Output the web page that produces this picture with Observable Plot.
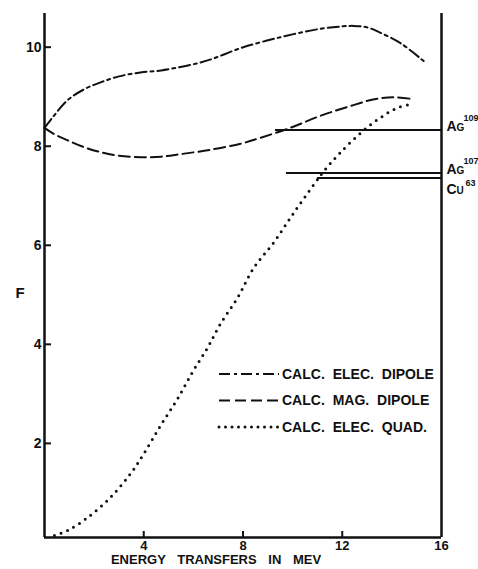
<!DOCTYPE html>
<html><head><meta charset="utf-8">
<script src="https://cdn.jsdelivr.net/npm/d3@7"></script>
<script src="https://cdn.jsdelivr.net/npm/@observablehq/plot@0.6"></script>
<style>
body{margin:0;background:#fff;}
#wrap{position:relative;width:478px;height:569px;overflow:hidden;}
#wrap svg text{font-family:"Liberation Sans",Arial,sans-serif;font-weight:bold;}
#legend{position:absolute;left:0;top:0;pointer-events:none;}
</style></head><body><div id="wrap"></div>
<script>
// ---- data ----
const elecDipoleX = [0, 0.37, 0.93, 1.6, 2.26, 3.0, 3.87, 4.7, 5.48, 6.2, 6.8, 7.9, 9.5, 11.1, 12.0, 12.46, 13.0, 13.5, 14.35, 15.28];
const elecDipoleF = [8.37, 8.61, 8.93, 9.15, 9.29, 9.41, 9.49, 9.53, 9.6, 9.68, 9.77, 9.98, 10.2, 10.37, 10.42, 10.43, 10.4, 10.3, 10.08, 9.72];

const magDipoleX = [0, 0.37, 0.93, 1.6, 2.26, 3.0, 3.87, 4.7, 5.48, 6.7, 7.9, 8.7, 9.9, 11.1, 12.45, 13.3, 14.07, 14.87];
const magDipoleF = [8.37, 8.25, 8.12, 7.98, 7.88, 7.81, 7.78, 7.79, 7.84, 7.93, 8.05, 8.17, 8.37, 8.61, 8.83, 8.95, 8.99, 8.95];

const elecQuadX = [0.4, 0.93, 1.73, 2.66, 3.47, 4.0, 4.68, 5.36, 6.0, 6.57, 7.1, 7.78, 8.43, 9.23, 10.04, 10.85, 11.25, 11.9, 12.86, 13.55, 14.2, 14.8];
const elecQuadF = [0.14, 0.24, 0.5, 0.91, 1.39, 1.79, 2.36, 2.9, 3.47, 3.93, 4.42, 4.94, 5.54, 6.05, 6.65, 7.22, 7.49, 7.86, 8.32, 8.58, 8.77, 8.85];

const isotopeName  = ["Ag", "Ag", "Cu"];
const isotopeMass  = ["109", "107", "63"];
const isotopeF     = [8.33, 7.46, 7.36];
const isotopeStart = [9.31, 9.75, 11.0];
const isotopeLabelSide = ["above", "above", "below"];

const xTicks = [4, 8, 12, 16];
const yTicks = [2, 4, 6, 8, 10];
const xDomain = [0, 16];
const yDomain = [0.1, 10.68];
const xLabel = "ENERGY TRANSFERS IN MEV";
const yLabel = "F";
const legendLabels = ["CALC. ELEC. DIPOLE", "CALC. MAG. DIPOLE", "CALC. ELEC. QUAD."];

// ---- build tables ----
const toRows = (xs, fs) => xs.map((x, i) => ({x, f: fs[i]}));
const elec = toRows(elecDipoleX, elecDipoleF);
const mag = toRows(magDipoleX, magDipoleF);
const quad = toRows(elecQuadX, elecQuadF);
const isotopes = isotopeName.map((name, i) => ({name, mass: isotopeMass[i], f: isotopeF[i], start: isotopeStart[i], side: isotopeLabelSide[i]}));
const above = isotopes.filter(d => d.side === "above");
const below = isotopes.filter(d => d.side === "below");

const W = 478, H = 569, mL = 44, mR = 37, mT = 13, mB = 32;
const plotW = W - mL - mR, plotH = H - mT - mB;
const ink = "#111";
const dashes = {elec: "11,4,3,4", mag: "11,5", quad: "0,7"};

const chart = Plot.plot({
  width: W, height: H,
  marginLeft: mL, marginRight: mR, marginTop: mT, marginBottom: mB,
  x: {domain: xDomain},
  y: {domain: yDomain},
  style: {fontFamily: "Liberation Sans, Arial, sans-serif", fontWeight: "bold", fontSize: "14px", color: ink, background: "#fff", overflow: "visible"},
  marks: [
    Plot.line(elec, {x: "x", y: "f", curve: "catmull-rom", stroke: ink, strokeWidth: 2, strokeDasharray: dashes.elec}),
    Plot.line(mag, {x: "x", y: "f", curve: "catmull-rom", stroke: ink, strokeWidth: 2, strokeDasharray: dashes.mag}),
    Plot.line(quad, {x: "x", y: "f", curve: "catmull-rom", stroke: ink, strokeWidth: 3, strokeLinecap: "round", strokeDasharray: dashes.quad}),
    Plot.ruleY(isotopes, {y: "f", x1: "start", x2: () => xDomain[1], stroke: ink, strokeWidth: 2}),
    Plot.ruleX(xDomain, {stroke: ink, strokeWidth: 2.5}),
    Plot.ruleY([yDomain[0]], {stroke: ink, strokeWidth: 2.5}),
    Plot.tickY(yTicks, {y: d => d, insetRight: plotW - 7, stroke: ink, strokeWidth: 2}),
    Plot.tickX(xTicks.slice(0, -1), {x: d => d, insetTop: plotH - 6, stroke: ink, strokeWidth: 2}),
    Plot.axisY({ticks: yTicks, tickSize: 0, tickPadding: 3, label: null, fontSize: 14}),
    Plot.axisX({ticks: xTicks, tickSize: 0, tickPadding: 3, label: null, fontSize: 13}),
    Plot.text([yLabel], {text: d => d, frameAnchor: "left", dx: -29, dy: 18, fontSize: 15}),
    Plot.text([xLabel], {text: d => d, frameAnchor: "bottom", dx: -27, dy: 26, fontSize: 13}),
    Plot.text(above, {x: () => xDomain[1], y: "f", text: "name", dx: 5, dy: -3, textAnchor: "start", fontVariant: "small-caps", fontSize: 14}),
    Plot.text(above, {x: () => xDomain[1], y: "f", text: "mass", dx: 22, dy: -12, textAnchor: "start", fontSize: 9}),
    Plot.text(below, {x: () => xDomain[1], y: "f", text: "name", dx: 5, dy: 12, textAnchor: "start", fontVariant: "small-caps", fontSize: 14}),
    Plot.text(below, {x: () => xDomain[1], y: "f", text: "mass", dx: 24, dy: 5, textAnchor: "start", fontSize: 9})
  ]
});

const wrap = document.getElementById("wrap");
wrap.appendChild(chart);
d3.select(chart).selectAll("text").filter(function () { return this.textContent === xLabel; }).style("word-spacing", "8px");

// ---- legend overlay inside the plot area ----
const legendStyles = [dashes.elec, dashes.mag, dashes.quad];
const legend = d3.select(wrap).append("svg").attr("id", "legend").attr("width", W).attr("height", H);
const row = legend.selectAll("g").data(legendLabels).join("g")
  .attr("transform", (d, i) => `translate(219,${374 + i * 26.5})`);
row.append("line").attr("x1", 0).attr("x2", 60).attr("y1", 0).attr("y2", 0)
  .attr("stroke", ink)
  .attr("stroke-width", (d, i) => i === 2 ? 3 : 2)
  .attr("stroke-linecap", (d, i) => i === 2 ? "round" : "butt")
  .attr("stroke-dasharray", (d, i) => i === 2 ? "0,6.5" : legendStyles[i]);
row.append("text").attr("x", 63).attr("y", 0).attr("dy", "0.35em")
  .attr("font-size", 14).attr("fill", ink).style("word-spacing", "4px")
  .text(d => d);
</script>
</body></html>
